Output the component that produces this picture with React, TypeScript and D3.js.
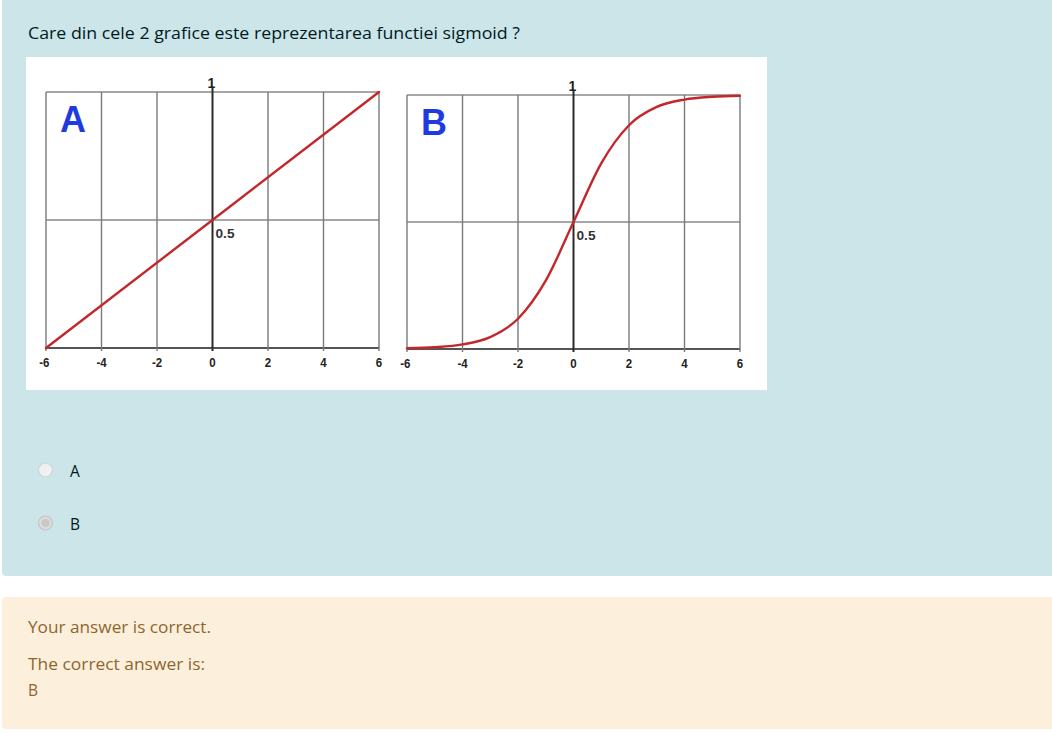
import React from "react";
import * as d3 from "d3";

const questionText = "Care din cele 2 grafice este reprezentarea functiei sigmoid ?";
const options = ["A", "B"];
const feedbackLines = ["Your answer is correct.", "The correct answer is:", "B"];

const xTicks = [-6, -4, -2, 0, 2, 4, 6];
const yGrid = [0, 0.5, 1];

// Chart A: straight line
const linearX = [-6, 0, 6];
const linearY = [0, 0.5, 1];

// Chart B: sigmoid curve values
const sigmoidX = [-6, -5, -4, -3, -2, -1, 0, 1, 2, 3, 4, 5, 6];
const sigmoidY = [0.003, 0.007, 0.018, 0.047, 0.119, 0.269, 0.5, 0.731, 0.881, 0.953, 0.982, 0.993, 0.997];

type Pt = [number, number];

const tickFont = "'Liberation Sans Narrow', 'Arial Narrow', 'Liberation Sans', sans-serif";

function Chart({ letter, x0, x1, yTop, yBottom, data, curve }: {
  letter: string; x0: number; x1: number; yTop: number; yBottom: number; data: Pt[]; curve: any;
}) {
  const x = d3.scaleLinear().domain([-6, 6]).range([x0, x1]);
  const y = d3.scaleLinear().domain([0, 1]).range([yBottom, yTop]);
  const line = d3.line<Pt>().x((d) => x(d[0])).y((d) => y(d[1])).curve(curve);
  return (
    <g>
      {yGrid.map((v) => (
        <line key={"h" + v} x1={x(-6)} x2={x(6)} y1={y(v)} y2={y(v)}
          stroke={v === 0 ? "#555" : "#8a8a8a"} strokeWidth={v === 0 ? 1.8 : 1.4} />
      ))}
      {xTicks.map((t) => (
        <line key={"v" + t} x1={x(t)} x2={x(t)} y1={t === 0 ? y(1) - 4 : y(1)} y2={y(0) + 3}
          stroke={t === 0 ? "#2a2a2a" : "#7a7a7a"} strokeWidth={t === 0 ? 2 : 1.4} />
      ))}
      {xTicks.map((t) => (
        <text key={"t" + t} x={x(t) - (t === -6 ? 2 : 0)} y={y(0) + 19} textAnchor="middle"
          fontFamily={tickFont} fontWeight="bold" fontSize={13.5} fill="#222"
          transform={`translate(${x(t)},0) scale(0.85,1) translate(${-x(t)},0)`}>{String(t)}</text>
      ))}
      <text x={x(0) - 1} y={y(1) - 4} textAnchor="middle" fontFamily={tickFont} fontWeight="bold"
        fontSize={14} fill="#222">1</text>
      <text x={x(0) + 3} y={y(0.5) + 18} fontFamily={tickFont} fontWeight="bold"
        fontSize={13.5} fill="#333" textLength={19} lengthAdjust="spacingAndGlyphs">0.5</text>
      <path d={line(data) || ""} fill="none" stroke="#c2282b" strokeWidth={2.4} strokeLinecap="round" />
      <text x={x(-6) + 14} y={y(1) + 40} fontFamily="'Liberation Sans', Arial, sans-serif"
        fontWeight="bold" fontSize={36} fill="#1f3be0">{letter}</text>
    </g>
  );
}

export default function App() {
  const linData: Pt[] = linearX.map((v, i) => [v, linearY[i]]);
  const sigData: Pt[] = sigmoidX.map((v, i) => [v, sigmoidY[i]]);
  const font = "'Open Sans', 'Noto Sans', sans-serif";
  return (
    <svg width={1052} height={733} style={{ position: "absolute", left: 0, top: 0 }}
      xmlns="http://www.w3.org/2000/svg">
      <rect x={0} y={0} width={1052} height={733} fill="#ffffff" />
      {/* question panel */}
      <path d="M2,0 H1052 V576 H6 Q2,576 2,572 Z" fill="#cce5e9" />
      <text x={28} y={39} fontFamily={font} fontSize={15.5} fill="#001a1e"
        textLength={492} lengthAdjust="spacingAndGlyphs">{questionText}</text>
      {/* image */}
      <rect x={26} y={57} width={741} height={333} fill="#ffffff" />
      <Chart letter="A" x0={46} x1={379} yTop={92} yBottom={348} data={linData} curve={d3.curveLinear} />
      <Chart letter="B" x0={407} x1={740} yTop={95} yBottom={349} data={sigData} curve={d3.curveMonotoneX} />
      {/* options */}
      {options.map((o, i) => {
        const cy = 470 + i * 53;
        const checked = o === "B";
        return (
          <g key={o}>
            <circle cx={45.5} cy={cy} r={7} fill={checked ? "#dcdcdc" : "#eef0f1"}
              stroke={checked ? "#c4c4c4" : "#d0d4d6"} strokeWidth={1.2} />
            {checked && <circle cx={45.5} cy={cy} r={4} fill="#c8c8c8" />}
            <text x={70} y={cy + 7} fontFamily={font} fontSize={15.5} fill="#001a1e">{o}</text>
          </g>
        );
      })}
      {/* feedback panel */}
      <rect x={2} y={597} width={1056} height={132} rx={4} fill="#fcefdc" />
      <text x={28} y={633} fontFamily={font} fontSize={15.5} fill="#8e662e"
        textLength={183} lengthAdjust="spacingAndGlyphs">{feedbackLines[0]}</text>
      <text x={28} y={670} fontFamily={font} fontSize={15.5} fill="#8e662e"
        textLength={177} lengthAdjust="spacingAndGlyphs">{feedbackLines[1]}</text>
      <text x={28} y={696} fontFamily={font} fontSize={15.5} fill="#8e662e">{feedbackLines[2]}</text>
    </svg>
  );
}
